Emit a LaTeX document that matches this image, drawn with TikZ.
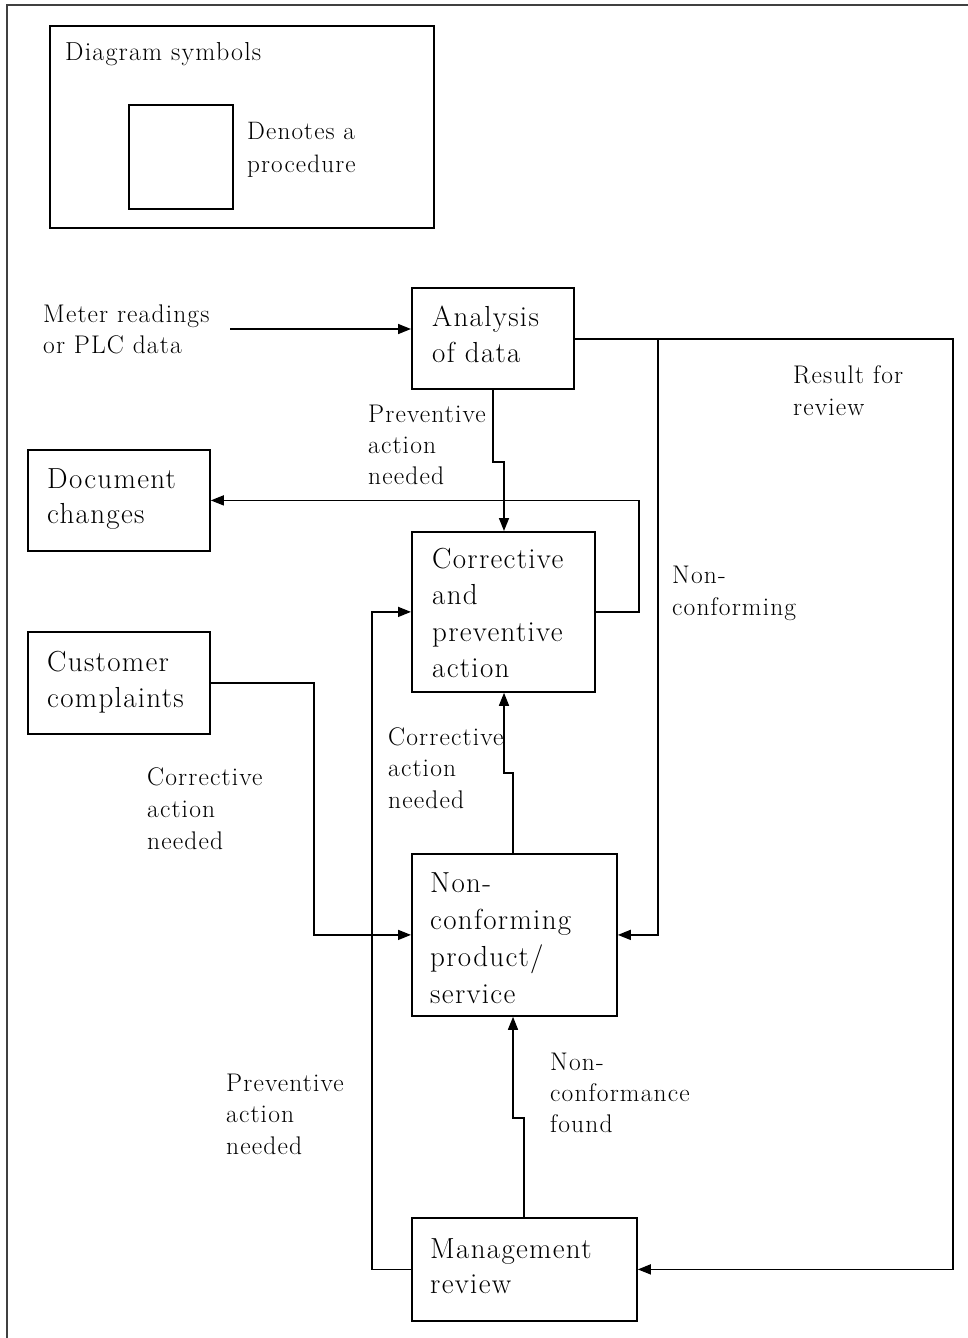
\documentclass[tikz,border=0pt]{standalone}
\usepackage{fontspec}
\setmainfont{Latin Modern Roman}[LetterSpace=4.5]
\usetikzlibrary{arrows.meta}
% multi-line text whose baseline is that of its first line
\newcommand\mlines[1]{\vtop{\halign{##\hfil\cr#1\crcr}}}
\tikzset{
  procbox/.style={draw, line width=1.8pt, inner sep=0pt, anchor=north west},
  lbl/.style={anchor=base west, inner sep=0pt, font=\fontsize{25.5}{31.5}\selectfont},
  boxtext/.style={anchor=base west, inner sep=0pt, font=\fontsize{29}{36.5}\selectfont},
  conn/.style={line width=1.5pt},
  arr/.style={conn, -{Triangle[length=13pt,width=10pt]}},
  frame/.style={line width=2.5pt, draw=black!75}
}
\begin{document}
\begin{tikzpicture}[x=1pt,y=-1pt]
\useasboundingbox (0,0) rectangle (968,1338);
\fill[white] (0,0) rectangle (968,1338);
% page frame
\draw[frame] (7,1338) -- (7,5) -- (968,5);

% legend
\node[procbox, minimum width=384pt, minimum height=202pt] (legend) at (49,25) {};
\node[procbox, minimum width=104pt, minimum height=104pt] (sym) at (128,104) {};
\node[anchor=base west, inner sep=0pt, font=\fontsize{26}{32}\selectfont] (legendtitle) at (65,60) {Diagram symbols};
\node[anchor=base west, inner sep=0pt, font=\fontsize{25.2}{33.5}\selectfont] (symtext) at (247,139) {\mlines{Denotes a\cr procedure}};

% procedures
\node[procbox, minimum width=162pt, minimum height=101pt] (ana) at (411,287) {};
\node[procbox, minimum width=182pt, minimum height=101pt] (doc) at (27,449) {};
\node[procbox, minimum width=183pt, minimum height=160pt] (cpa) at (411,531) {};
\node[procbox, minimum width=182pt, minimum height=102pt] (cust) at (27,631) {};
\node[procbox, minimum width=205pt, minimum height=162pt] (ncp) at (411,853) {};
\node[procbox, minimum width=225pt, minimum height=103pt] (mgt) at (411,1217) {};

\node[boxtext] (anatext) at (432,326) {\mlines{Analysis\cr of data}};
\node[boxtext, font=\fontsize{29}{35}\selectfont] (doctext) at (47,488) {\mlines{Document\cr changes}};
\node[boxtext] (cpatext) at (432,568) {\mlines{Corrective\cr and\cr preventive\cr action}};
\node[boxtext] (custtext) at (47,671) {\mlines{Customer\cr complaints}};
\node[boxtext, font=\fontsize{29}{37}\selectfont] (ncptext) at (430,892) {\mlines{Non-\cr conforming\cr product/\cr service}};
\node[boxtext, font=\fontsize{29}{35}\selectfont] (mgttext) at (430,1258) {\mlines{Management\cr review}};

% connector labels
\node[lbl] (meter) at (43,322) {\mlines{Meter readings\cr or PLC data}};
\node[lbl, font=\fontsize{25.5}{32}\selectfont] (result) at (793,383) {\mlines{Result for\cr review}};
\node[lbl, font=\fontsize{25.5}{32}\selectfont] (nonconf) at (672,583) {\mlines{Non-\cr conforming}};
\node[lbl, font=\fontsize{25.5}{31}\selectfont] (prevtop) at (368,422) {\mlines{Preventive\cr action\cr needed}};
\node[lbl] (corrmid) at (388,745) {\mlines{Corrective\cr action\cr needed}};
\node[lbl, font=\fontsize{25.5}{32}\selectfont] (corrleft) at (147,785) {\mlines{Corrective\cr action\cr needed}};
\node[lbl] (prevbot) at (226,1091) {\mlines{Preventive\cr action\cr needed}};
\node[lbl, font=\fontsize{25.5}{31}\selectfont] (ncfound) at (550,1070) {\mlines{Non-\cr conformance\cr found}};

% connectors
\coordinate (mstart) at (230,329);
\draw[arr] (mstart) -- (mstart -| ana.west);

\draw[arr] ([xshift=82pt]ana.south west) -- ++(0,72) -- ++(11,0) coordinate (j1) -- (j1 |- cpa.north);

\draw[arr] ([yshift=-52pt]ana.north east) -- ++(378,0) |- (mgt.east);
\coordinate (nb) at (658,339);
\draw[arr] (nb) |- (ncp.east);

\draw[arr] (cpa.east) -- ++(43,0) |- (doc.east);

\draw[arr] (cust.east) -- ++(103,0) |- (ncp.west);

\draw[arr] ([xshift=102pt]ncp.north west) -- ++(0,-80) -- ++(-9,0) coordinate (j2) -- (j2 |- cpa.south);

\draw[arr] ([xshift=113pt]mgt.north west) -- ++(0,-99) -- ++(-11,0) coordinate (j3) -- (j3 |- ncp.south);

\draw[arr] (mgt.west) -- ++(-39,0) |- (cpa.west);
\end{tikzpicture}
\end{document}
